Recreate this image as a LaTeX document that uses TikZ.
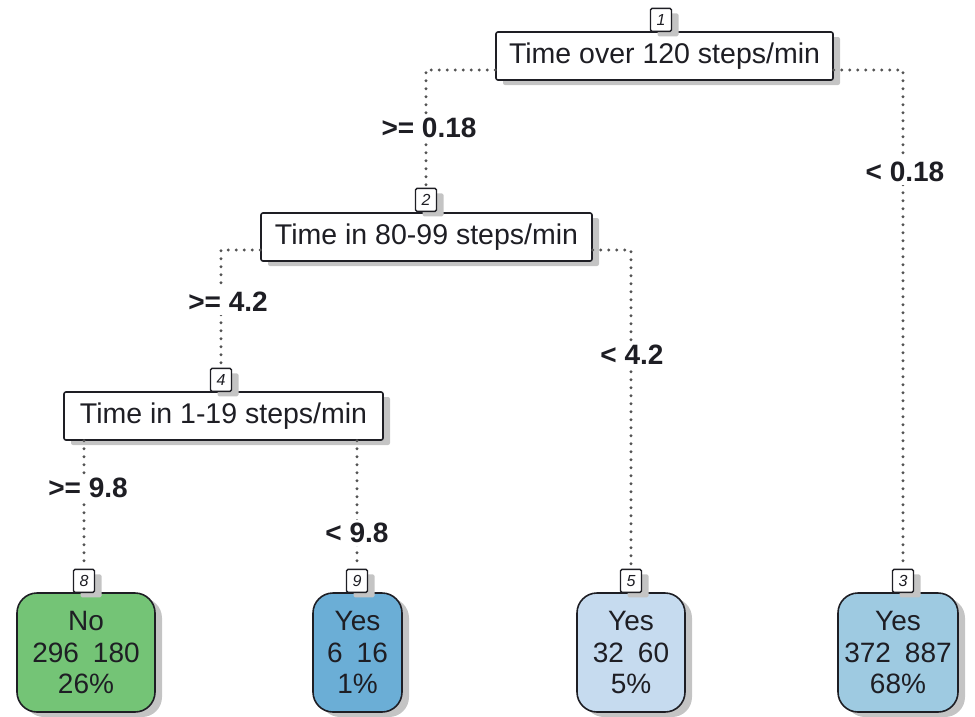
\documentclass[tikz,border=0pt]{standalone}
\usepackage{fontspec}
\setmainfont{Liberation Sans}
\usetikzlibrary{shadows}
\definecolor{leafgreen}{HTML}{74C476}
\definecolor{leafblueA}{HTML}{6BAED6}
\definecolor{leafblueB}{HTML}{C6DBEF}
\definecolor{leafblueC}{HTML}{9ECAE1}
\definecolor{ink}{HTML}{1E1E24}
\definecolor{shade}{HTML}{C4C4C4}
\tikzset{
  flatshadow/.style={drop shadow={shadow xshift=7pt, shadow yshift=-5pt, fill=shade, opacity=1}},
  splitbox/.style={draw=ink, line width=1.6pt, fill=white, rounded corners=2pt,
    minimum height=48pt, inner sep=0pt, text=ink, font=\fontsize{28.5}{30}\selectfont, flatshadow},
  numbox/.style={draw=ink, line width=1.3pt, fill=white, rounded corners=1.5pt,
    minimum width=21pt, minimum height=23pt, inner sep=0pt, text=ink,
    font=\fontsize{16}{16}\itshape, anchor=south, flatshadow},
  leafbox/.style={draw=ink, line width=1.6pt, rounded corners=20pt,
    minimum height=119pt, inner sep=0pt, text=ink, align=center,
    font=\fontsize{28}{31.5}\selectfont, flatshadow},
  link/.style={draw=gray!65!black, line width=3.2pt, line cap=round,
    dash pattern=on 0pt off 8pt},
  edgelab/.style={fill=white, inner sep=3pt, text=ink, font=\fontsize{28}{30}\bfseries}
}
\begin{document}
\begin{tikzpicture}[x=1pt,y=-1pt]
\useasboundingbox (0,0) rectangle (975,716);

% split nodes
\node[splitbox, minimum width=337pt] (n1) at (664.5,56) {Time over 120 steps/min};
\node[splitbox, minimum width=331pt] (n2) at (426.5,237) {Time in 80-99 steps/min};
\node[splitbox, minimum width=319pt] (n4) at (223.5,416) {Time in 1-19 steps/min};

% leaves
\node[leafbox, fill=leafgreen, minimum width=138pt] (n8) at (86,652.5) {No\\296\hspace{0.5em}180\\26\%};
\node[leafbox, fill=leafblueA, minimum width=89pt] (n9) at (357.5,652.5) {Yes\\6\hspace{0.5em}16\\1\%};
\node[leafbox, fill=leafblueB, minimum width=108pt] (n5) at (631,652.5) {Yes\\32\hspace{0.5em}60\\5\%};
\node[leafbox, fill=leafblueC, minimum width=120pt] (n3) at (898,652.5) {Yes\\372\hspace{0.5em}887\\68\%};

% node numbers
\node[numbox] (l1) at (661,32) {1};
\node[numbox] (l2) at (426,212) {2};
\node[numbox] (l4) at (221,392) {4};
\node[numbox] (l8) at (84,593) {8};
\node[numbox] (l9) at (357,593) {9};
\node[numbox] (l5) at (631,593) {5};
\node[numbox] (l3) at (903,593) {3};

% dotted connectors from each split to its children
\draw[link] ([yshift=-14pt]n1.west) -| (l2.north);
\draw[link] ([yshift=-14pt]n1.east) -| (l3.north);
\draw[link] ([yshift=-13pt]n2.west) -| (l4.north);
\draw[link] ([yshift=-13pt]n2.east) -| (l5.north);
\draw[link] (l8.north |- n4.south) -- (l8.north);
\draw[link] (l9.north |- n4.south) -- (l9.north);

% split conditions
\node[edgelab] (e2) at (429,128) {>= 0.18};
\node[edgelab] (e3) at (905,172) {< 0.18};
\node[edgelab] (e4) at (228,302) {>= 4.2};
\node[edgelab] (e5) at (632,355) {< 4.2};
\node[edgelab] (e8) at (88,488) {>= 9.8};
\node[edgelab] (e9) at (357,533) {< 9.8};
\end{tikzpicture}
\end{document}
